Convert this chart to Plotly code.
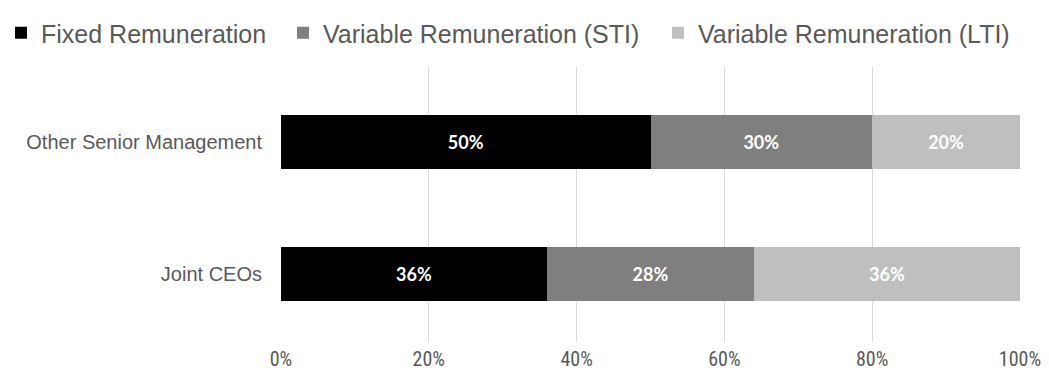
import plotly.graph_objects as go

categories = ["Joint CEOs", "Other Senior Management"]
fixed = [36, 50]
sti = [28, 30]
lti = [36, 20]
series_names = ["Fixed Remuneration", "Variable Remuneration (STI)", "Variable Remuneration (LTI)"]
colors = ["#000000", "#7f7f7f", "#bfbfbf"]
tick_vals = [0, 20, 40, 60, 80, 100]
tick_text = ["0%", "20%", "40%", "60%", "80%", "100%"]

legend_ids = ["legend", "legend2", "legend3"]
legend_x = [-0.3789, 0.0027, 0.5101]

fig = go.Figure()
for name, vals, col, lg in zip(series_names, [fixed, sti, lti], colors, legend_ids):
    fig.add_trace(go.Bar(
        y=categories, x=vals, name=name, orientation="h",
        marker=dict(color=col, line=dict(width=0)),
        text=[f"{v}%" for v in vals], textposition="inside",
        insidetextanchor="middle",
        textfont=dict(color="white", size=18, family="Lato", weight="bold"),
        legend=lg,
    ))

legend_style = dict(orientation="h", y=1.1236, xanchor="left", yanchor="middle",
                    font=dict(family="Liberation Sans", size=25, color="#595959"),
                    itemwidth=30, bgcolor="rgba(0,0,0,0)")

fig.update_layout(
    barmode="stack", bargap=0.59,
    width=1049, height=374,
    margin=dict(l=281, r=29, t=67, b=32, autoexpand=False),
    paper_bgcolor="white", plot_bgcolor="white",
    showlegend=True,
    legend=dict(x=legend_x[0], **legend_style),
    legend2=dict(x=legend_x[1], **legend_style),
    legend3=dict(x=legend_x[2], **legend_style),
    xaxis=dict(range=[0, 100], tickvals=tick_vals, ticktext=tick_text,
               showgrid=True, gridcolor="#d9d9d9", gridwidth=1,
               zeroline=False, ticks="", ticklen=0, ticklabelstandoff=3,
               tickfont=dict(family="Liberation Sans Narrow, Roboto Condensed, Liberation Sans", size=20, color="#595959")),
    yaxis=dict(tickfont=dict(family="Liberation Sans", size=20, color="#595959"),
               range=[-0.515, 1.568],
               ticks="outside", ticklen=14, tickcolor="white", showgrid=False),
    uniformtext=dict(mode="show", minsize=10),
)
fig.write_html("out.html")
